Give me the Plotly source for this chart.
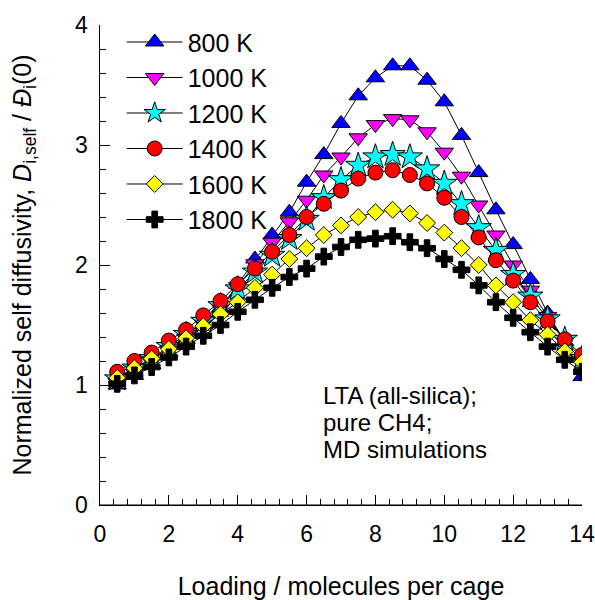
import plotly.graph_objects as go

loading = [0.5, 1.0, 1.5, 2.0, 2.5, 3.0, 3.5, 4.0, 4.5, 5.0, 5.5, 6.0, 6.5, 7.0,
           7.5, 8.0, 8.5, 9.0, 9.5, 10.0, 10.5, 11.0, 11.5, 12.0, 12.5, 13.0, 13.5, 14.0]

d800 = [1.00, 1.08, 1.17, 1.27, 1.38, 1.50, 1.64, 1.84, 2.05, 2.25, 2.44, 2.69, 2.92, 3.18,
        3.41, 3.56, 3.66, 3.66, 3.54, 3.36, 3.08, 2.77, 2.46, 2.17, 1.88, 1.60, 1.36, 1.07]
d1000 = [1.02, 1.10, 1.19, 1.29, 1.39, 1.51, 1.64, 1.82, 2.01, 2.19, 2.36, 2.54, 2.75, 2.90,
         3.06, 3.17, 3.22, 3.21, 3.11, 2.94, 2.74, 2.50, 2.25, 2.00, 1.79, 1.57, 1.36, 1.20]
d1200 = [1.05, 1.14, 1.22, 1.32, 1.42, 1.53, 1.66, 1.80, 1.94, 2.08, 2.22, 2.38, 2.56, 2.71,
         2.83, 2.90, 2.92, 2.90, 2.80, 2.68, 2.51, 2.31, 2.12, 1.92, 1.74, 1.55, 1.38, 1.22]
d1400 = [1.11, 1.20, 1.27, 1.37, 1.46, 1.58, 1.70, 1.84, 1.97, 2.11, 2.25, 2.40, 2.51, 2.62,
         2.72, 2.77, 2.79, 2.75, 2.68, 2.56, 2.40, 2.23, 2.04, 1.87, 1.69, 1.53, 1.38, 1.25]
d1600 = [1.06, 1.14, 1.22, 1.30, 1.39, 1.49, 1.59, 1.69, 1.81, 1.92, 2.05, 2.14, 2.25, 2.33,
         2.40, 2.44, 2.46, 2.43, 2.35, 2.27, 2.14, 2.00, 1.83, 1.69, 1.54, 1.42, 1.28, 1.19]
d1800 = [1.01, 1.08, 1.15, 1.23, 1.32, 1.41, 1.50, 1.61, 1.71, 1.81, 1.90, 1.97, 2.07, 2.15,
         2.21, 2.22, 2.24, 2.19, 2.14, 2.05, 1.96, 1.83, 1.69, 1.56, 1.44, 1.32, 1.21, 1.11]

series_names = ["800 K", "1000 K", "1200 K", "1400 K", "1600 K", "1800 K"]
series_values = [d800, d1000, d1200, d1400, d1600, d1800]
symbols = ["triangle-up", "triangle-down", "star", "circle", "diamond", "cross"]
colors = ["#0000ff", "#ff00ff", "#00ffff", "#ff0000", "#ffff00", "#000000"]
sizes = [16, 16, 19, 15, 13, 14]

note_lines = ["LTA (all-silica);", "pure CH4;", "MD simulations"]

FONT = "Liberation Sans, Arial, sans-serif"

fig = go.Figure()
for name, vals, sym, col, sz in zip(series_names, series_values, symbols, colors, sizes):
    fig.add_trace(go.Scatter(
        x=loading, y=vals, name=name, mode="lines+markers",
        legendgroup=name,
        line=dict(color="black", width=1),
        marker=dict(symbol=sym, color=col, size=sz, line=dict(color="black", width=1)),
    ))

for i, txt in enumerate(note_lines):
    fig.add_annotation(x=0.459, y=0.228 - i * 0.056, xref="paper", yref="paper",
                       text=txt, showarrow=False, xanchor="left", yanchor="middle",
                       font=dict(size=24, color="black", family=FONT))

# bottom frame line (axis decoration) along the x-axis
fig.add_shape(type="line", xref="paper", yref="paper", x0=0, x1=1, y0=0, y1=0,
              line=dict(color="black", width=1.2), layer="above")

fig.update_layout(
    width=595, height=600,
    margin=dict(l=100, r=13, t=25, b=95),
    paper_bgcolor="white", plot_bgcolor="white",
    font=dict(family=FONT, size=23, color="black"),
    showlegend=True,
    legend=dict(x=0.045, y=1.012, xanchor="left", yanchor="top",
                font=dict(size=25, family=FONT), bgcolor="rgba(0,0,0,0)",
                tracegroupgap=0, itemwidth=56),
    xaxis=dict(range=[0, 14], dtick=2, tick0=0, showgrid=False, zeroline=False,
               automargin=False, ticklabeloverflow="allow", layer="above traces",
               showline=True, linecolor="black", linewidth=1.2,
               ticks="inside", ticklen=10, tickcolor="black", tickwidth=1,
               ticklabelstandoff=8,
               minor=dict(dtick=0.4, ticks="inside", ticklen=6, tickcolor="black", tickwidth=1),
               title=dict(text="Loading / molecules per cage", font=dict(size=25), standoff=34)),
    yaxis=dict(range=[0, 4], dtick=1, tick0=0, showgrid=False, zeroline=False,
               automargin=False, ticklabeloverflow="allow", layer="above traces",
               showline=True, linecolor="black", linewidth=1.2,
               ticks="inside", ticklen=10, tickcolor="black", tickwidth=1,
               ticksuffix="\u00a0",
               minor=dict(dtick=0.2, ticks="inside", ticklen=6, tickcolor="black", tickwidth=1),
               title=dict(text="Normalized self diffusivity, <i>D</i><sub>i,self</sub> / <i>Đ</i><sub>i</sub>(0)",
                          font=dict(size=25), standoff=36)),
)

fig.write_html("out.html")
